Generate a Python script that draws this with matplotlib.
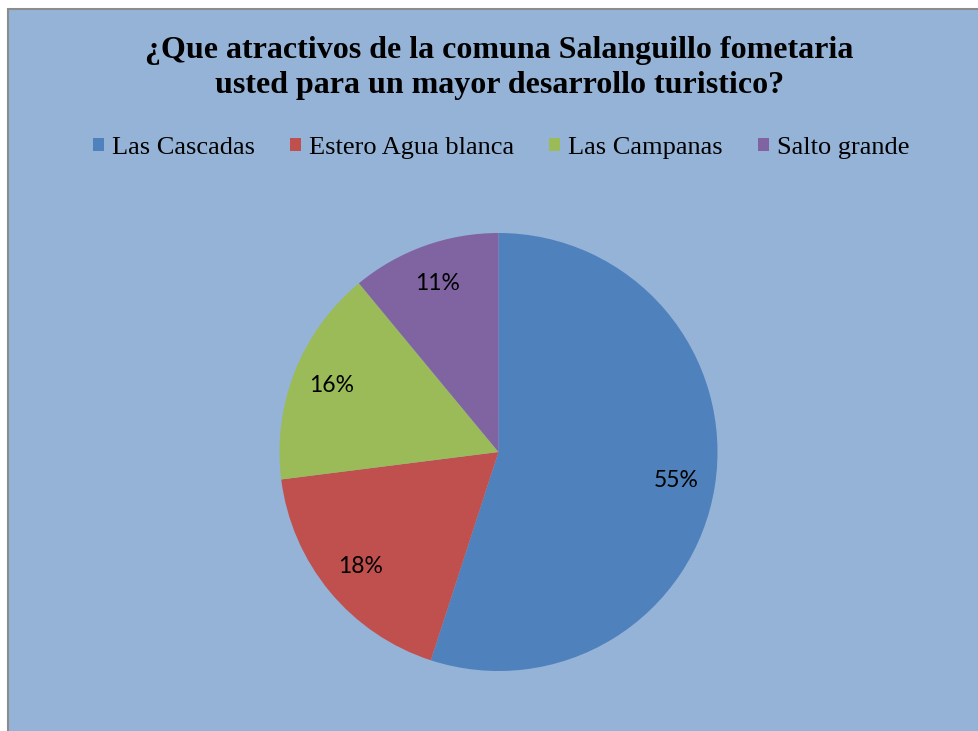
#!/usr/bin/env python3

import matplotlib
matplotlib.use("Agg")
import matplotlib.pyplot as plt
from matplotlib.patches import Rectangle

labels = ["Las Cascadas", "Estero Agua blanca", "Las Campanas", "Salto grande"]
values = [55, 18, 16, 11]
colors = ["#4F81BD", "#C0504D", "#9BBB59", "#8064A2"]

title = "¿Que atractivos de la comuna Salanguillo fometaria\nusted para un mayor desarrollo turistico?"
bg_color = "#95B3D7"

W, H = 979, 731
fig = plt.figure(figsize=(W / 100, H / 100), dpi=100)
fig.patch.set_facecolor("white")

# chart area (extends past the right and bottom edges)
fig.patches.append(Rectangle((8 / W, -0.05), 1.0, 1.05 - 9 / H,
                             transform=fig.transFigure, facecolor=bg_color,
                             edgecolor="#8C8C8C", linewidth=1.5, zorder=-10))

fig.text(0.510, 1 - 68 / H, title, ha="center", va="center",
         fontsize=23, fontweight="bold", family="Liberation Serif",
         linespacing=1.25)

# pie axes, centered at (498.5, 452) px with radius 219 px
cx, cy, r = 498.5, 452, 219
ax = fig.add_axes([(cx - r) / W, (H - cy - r) / H, 2 * r / W, 2 * r / H])
ax.set_facecolor("none")
wedges, texts, autotexts = ax.pie(values, colors=colors, startangle=90,
                                  counterclock=False, autopct="%1.0f%%",
                                  pctdistance=0.82, radius=1.0,
                                  wedgeprops={"linewidth": 0})
for t in autotexts:
    t.set_family("Lato")
    t.set_fontsize(16.5)
    t.set_color("black")
ax.set_xlim(-1, 1)
ax.set_ylim(-1, 1)
ax.axis("off")

leg = fig.legend(wedges, labels, loc="center", ncol=4,
                 bbox_to_anchor=(501 / W, 1 - 148 / H),
                 frameon=False, handlelength=0.42, handleheight=0.42,
                 handletextpad=0.3, columnspacing=1.33,
                 prop={"family": "Liberation Serif", "size": 19})

fig.savefig("out.png", dpi=100)
